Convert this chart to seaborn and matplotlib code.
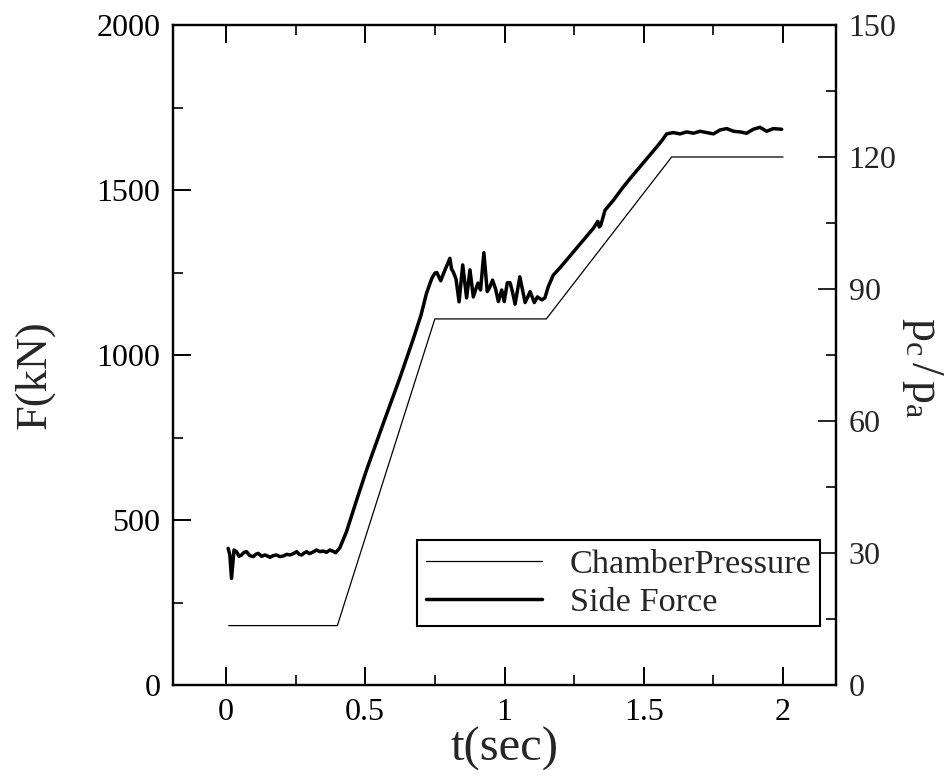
import numpy as np
import pandas as pd
import matplotlib
matplotlib.use("Agg")
import matplotlib.pyplot as plt
import seaborn as sns
from matplotlib.ticker import MultipleLocator

# ---------------- data ----------------
t_chamber = [0.01, 0.40, 0.75, 1.15, 1.60, 2.00]
pc_pa = [13.5, 13.5, 83.2, 83.2, 120.0, 120.0]

t_force = [0.008, 0.014, 0.020, 0.029, 0.038, 0.047, 0.056, 0.065, 0.074, 0.086,
           0.098, 0.107, 0.116, 0.128, 0.140, 0.149, 0.158, 0.170, 0.182, 0.194,
           0.206, 0.218, 0.230, 0.242, 0.254, 0.263, 0.272, 0.281, 0.290, 0.299,
           0.308, 0.317, 0.325, 0.337, 0.349, 0.361, 0.373, 0.385, 0.394, 0.409,
           0.433, 0.469, 0.505, 0.565, 0.625, 0.673, 0.700, 0.720, 0.739,
           0.750, 0.757, 0.771, 0.785, 0.804, 0.810, 0.816, 0.826, 0.837, 0.850,
           0.864, 0.876, 0.888, 0.897, 0.905, 0.914, 0.926, 0.938, 0.947, 0.957,
           0.968, 0.978, 0.990, 0.999, 1.010, 1.020, 1.029, 1.038, 1.055, 1.074,
           1.083, 1.092, 1.107, 1.118, 1.134, 1.145, 1.157, 1.175, 1.200, 1.223,
           1.250, 1.283, 1.319, 1.335, 1.340, 1.345, 1.361, 1.390, 1.427, 1.457,
           1.487, 1.517, 1.547, 1.567, 1.582, 1.606, 1.630, 1.654, 1.678, 1.702,
           1.726, 1.750, 1.774, 1.798, 1.822, 1.846, 1.869, 1.893, 1.917, 1.941,
           1.965, 1.995]
side_force = [414, 394, 323, 409, 404, 390, 394, 402, 404, 392,
              389, 396, 399, 390, 394, 391, 387, 392, 394, 389,
              391, 396, 394, 398, 404, 396, 394, 400, 404, 398,
              401, 405, 409, 404, 406, 402, 409, 405, 401, 416,
              465, 560, 652, 793, 932, 1050, 1120, 1187, 1232,
              1248, 1250, 1225, 1255, 1293, 1260, 1252, 1230, 1161, 1273,
              1173, 1258, 1176, 1200, 1218, 1197, 1310, 1192, 1205, 1227,
              1200, 1162, 1197, 1162, 1219, 1219, 1190, 1154, 1237, 1159,
              1175, 1192, 1159, 1176, 1167, 1173, 1207, 1242, 1265, 1288,
              1315, 1348, 1384, 1405, 1388, 1392, 1439, 1468, 1510, 1541,
              1571, 1601, 1631, 1652, 1670, 1674, 1670, 1676, 1672, 1678,
              1674, 1670, 1682, 1686, 1678, 1676, 1672, 1684, 1690, 1678,
              1686, 1684]

x_ticks = [0, 0.5, 1, 1.5, 2]
x_tick_labels = ["0", "0.5", "1", "1.5", "2"]
f_ticks = [0, 500, 1000, 1500, 2000]
p_ticks = [0, 30, 60, 90, 120, 150]
series_labels = ["ChamberPressure", "Side Force"]

# ---------------- style ----------------
sns.set_theme(style="ticks")
plt.rcParams["font.family"] = ["Liberation Serif", "DejaVu Serif"]
plt.rcParams["mathtext.fontset"] = "custom"
plt.rcParams["mathtext.rm"] = "Liberation Serif"
plt.rcParams["mathtext.it"] = "Liberation Serif:italic"

fig = plt.figure(figsize=(9.47, 7.76), dpi=100)
ax = fig.add_axes([173 / 947, 91 / 776, 663 / 947, 660 / 776])
ax2 = ax.twinx()

df_force = pd.DataFrame({"t": t_force, "F": side_force})
df_ch = pd.DataFrame({"t": t_chamber, "p": pc_pa})

sns.lineplot(data=df_force, x="t", y="F", ax=ax, color="black", linewidth=2.5,
             estimator=None, sort=False, legend=False)
sns.lineplot(data=df_ch, x="t", y="p", ax=ax2, color="black", linewidth=0.9,
             estimator=None, sort=False, legend=False)

ax.set_xlim(-0.19, 2.19)
ax.set_ylim(0, 2000)
ax2.set_ylim(0, 150)

ax.set_xticks(x_ticks)
ax.set_xticklabels(x_tick_labels)
ax.xaxis.set_minor_locator(MultipleLocator(0.25))
ax.set_yticks(f_ticks)
ax.yaxis.set_minor_locator(MultipleLocator(250))
ax2.set_yticks(p_ticks)
ax2.yaxis.set_minor_locator(MultipleLocator(15))

ax.tick_params(axis="both", which="major", direction="in", length=13, width=1.4,
               labelsize=23, pad=9, colors="black")
ax.tick_params(axis="both", which="minor", direction="in", length=7, width=1.4)
ax.tick_params(axis="x", which="both", top=True, bottom=True)
ax.tick_params(axis="y", which="both", left=True, right=False)
ax2.tick_params(axis="y", which="major", direction="in", length=13, width=1.4,
                labelsize=23, pad=9, right=True, left=False)
ax2.tick_params(axis="y", which="minor", direction="in", length=7, width=1.4,
                right=True, left=False)

for a in (ax, ax2):
    for s in a.spines.values():
        s.set_linewidth(1.6)
        s.set_color("black")

ax.set_xlabel("t(sec)", fontsize=35, labelpad=0)
ax.set_ylabel("F(kN)", fontsize=32)
ax.yaxis.set_label_coords(-0.178, 0.47)
ax2.set_ylabel(r"$\mathrm{p_c\,/\,p_a}$", fontsize=33, rotation=-90, va="bottom")
ax2.yaxis.set_label_coords(1.097, 0.48)

handles = [ax2.lines[0], ax.lines[0]]
leg = ax2.legend(handles, series_labels, loc="lower right",
                 bbox_to_anchor=(0.976, 0.089), borderaxespad=0, fontsize=24.7,
                 frameon=True, fancybox=False, edgecolor="black", framealpha=1,
                 handlelength=3.4, handletextpad=0.8, borderpad=0.25,
                 labelspacing=0.2)
leg.get_frame().set_linewidth(1.5)

fig.savefig("out.png", dpi=100)
